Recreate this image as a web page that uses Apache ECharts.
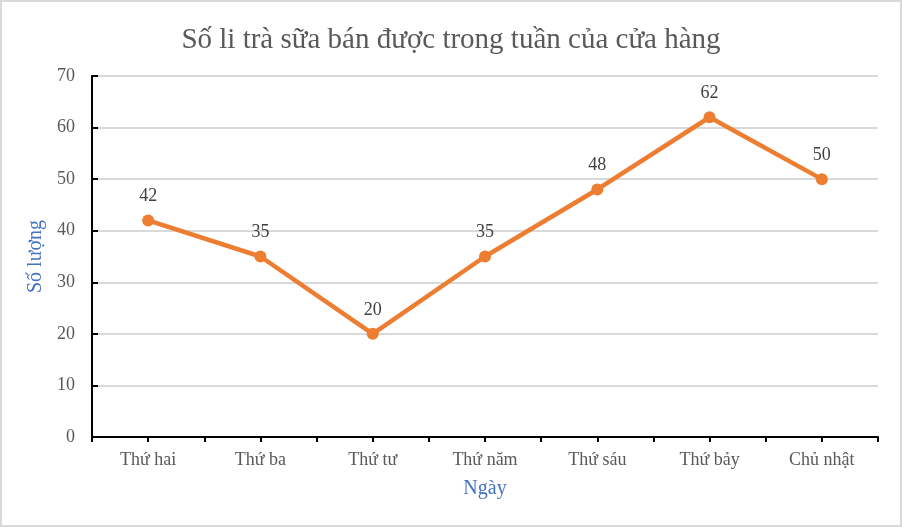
<!DOCTYPE html>
<html>
<head>
<meta charset="utf-8">
<script src="https://cdn.jsdelivr.net/npm/echarts@6/dist/echarts.min.js"></script>
<style>
    html, body {margin: 0; padding: 0; background: #fff;}
    #chart {width: 902px; height: 527px;}
</style>
</head>
<body>
<div id="chart"></div>
<script>
const FONT = '"Liberation Serif", "Times New Roman", serif';

// ------------------ data ------------------
const days = ['Thứ hai', 'Thứ ba', 'Thứ tư', 'Thứ năm', 'Thứ sáu', 'Thứ bảy', 'Chủ nhật'];
const cups = [42, 35, 20, 35, 48, 62, 50];
const yTicks = [0, 10, 20, 30, 40, 50, 60, 70];

// half-category slots, only used to draw the extra tick marks
const halfSlots = days.flatMap(d => [d + '-1', d + '-2']);

let myChart = echarts.init(document.getElementById('chart'));

let option = {
    backgroundColor: '#fff',
    animation: false,
    title: {
        text: 'Số li trà sữa bán được trong tuần của cửa hàng',
        left: 'center',
        top: 21,
        textStyle: {fontFamily: FONT, fontSize: 29, fontWeight: 'normal', color: '#595959'}
    },
    graphic: [{
        type: 'rect',
        silent: true,
        shape: {x: 1, y: 1, width: 900, height: 525},
        style: {fill: 'none', stroke: '#d9d9d9', lineWidth: 2}
    }],
    grid: {left: 92, right: 24, top: 76, bottom: 90},
    xAxis: [{
        type: 'category',
        data: days,
        boundaryGap: true,
        name: 'Ngày',
        nameLocation: 'middle',
        nameGap: 42,
        nameTextStyle: {fontFamily: FONT, fontSize: 20, color: '#4472C4'},
        axisLine: {lineStyle: {color: '#000', width: 2}},
        axisTick: {show: false},
        axisLabel: {fontFamily: FONT, fontSize: 18, color: '#595959', margin: 14}
    }, {
        type: 'category',
        data: halfSlots,
        position: 'bottom',
        boundaryGap: true,
        axisLine: {show: false},
        axisLabel: {show: false},
        axisTick: {show: true, interval: 0, length: 5, lineStyle: {color: '#000', width: 2}}
    }],
    yAxis: {
        type: 'value',
        min: yTicks[0],
        max: yTicks[yTicks.length - 1],
        interval: 10,
        name: 'Số lượng',
        nameLocation: 'middle',
        nameGap: 39,
        nameTextStyle: {fontFamily: FONT, fontSize: 20, color: '#4472C4'},
        axisLine: {show: true, lineStyle: {color: '#000', width: 2}},
        axisTick: {show: true, inside: true, length: 6, lineStyle: {color: '#000', width: 2}},
        axisLabel: {fontFamily: FONT, fontSize: 18, color: '#595959', margin: 17},
        splitLine: {lineStyle: {color: '#d9d9d9', width: 2}}
    },
    series: [{
        name: 'Số lượng',
        type: 'line',
        xAxisIndex: 0,
        data: cups,
        symbol: 'circle',
        symbolSize: 12,
        lineStyle: {color: '#ED7D31', width: 4.5},
        itemStyle: {color: '#ED7D31'},
        label: {
            show: true,
            position: 'top',
            distance: 9,
            fontFamily: FONT,
            fontSize: 18,
            color: '#404040'
        }
    }, {
        // empty series so the tick-only axis gets laid out
        type: 'line',
        xAxisIndex: 1,
        data: [],
        silent: true
    }]
};

if (option && typeof option === "object") {
    myChart.setOption(option, true);
}
</script>
</body>
</html>
